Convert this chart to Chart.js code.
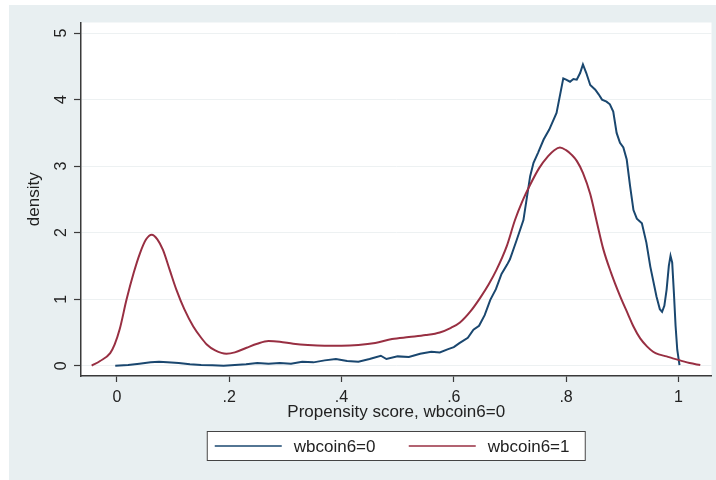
<!DOCTYPE html>
<html>
<head>
<meta charset="utf-8">
<title>Propensity score density</title>
<script src="https://cdn.jsdelivr.net/npm/chart.js@4.4.1/dist/chart.umd.min.js"></script>
<style>
  html, body { margin: 0; padding: 0; background: #fff; }
  #wrap { position: relative; width: 716px; height: 480px; }
</style>
</head>
<body>
<div id="wrap"><canvas id="chart"></canvas></div>
<script>
// ==========================================================================
// Data
// ==========================================================================
const seriesNames = ['wbcoin6=0', 'wbcoin6=1'];
const seriesColors = ['#1a476f', '#982f42'];

// wbcoin6=0
const controlX = [
    -0.003, 0.02, 0.04, 0.06, 0.075, 0.09, 0.11, 0.13, 0.15, 0.17, 0.19, 0.21, 0.23, 0.25,
    0.27, 0.29, 0.31, 0.33, 0.35, 0.37, 0.39, 0.41, 0.43, 0.45, 0.47, 0.48, 0.50, 0.52,
    0.54, 0.56, 0.575, 0.59, 0.60, 0.61, 0.625, 0.635, 0.645, 0.655, 0.665, 0.675, 0.685,
    0.695, 0.70, 0.712, 0.724, 0.736, 0.742, 0.75, 0.76, 0.77, 0.783, 0.795, 0.80, 0.807,
    0.813, 0.819, 0.825, 0.830, 0.836, 0.843, 0.852, 0.858, 0.864, 0.872, 0.878, 0.884,
    0.89, 0.896, 0.902, 0.908, 0.914, 0.920, 0.926, 0.935, 0.943, 0.950, 0.961, 0.967,
    0.971, 0.975, 0.979, 0.983, 0.986, 0.989, 0.992, 0.995, 0.998, 1.002
];
const controlY = [
    0.00, 0.01, 0.03, 0.05, 0.06, 0.05, 0.04, 0.02, 0.01, 0.005, 0.00, 0.01, 0.02, 0.04,
    0.03, 0.04, 0.03, 0.06, 0.05, 0.08, 0.10, 0.07, 0.06, 0.10, 0.15, 0.10, 0.14, 0.13,
    0.18, 0.21, 0.20, 0.25, 0.28, 0.34, 0.42, 0.54, 0.60, 0.76, 0.99, 1.15, 1.38,
    1.52, 1.60, 1.89, 2.19, 2.85, 3.05, 3.20, 3.40, 3.55, 3.80, 4.32, 4.30, 4.27,
    4.31, 4.30, 4.40, 4.53, 4.40, 4.22, 4.15, 4.08, 4.00, 3.97, 3.93, 3.82,
    3.50, 3.35, 3.28, 3.10, 2.70, 2.34, 2.21, 2.14, 1.85, 1.49, 1.04, 0.85,
    0.81, 0.90, 1.14, 1.50, 1.65, 1.55, 1.10, 0.60, 0.24, 0.01
];

// wbcoin6=1
const treatX = [
    -0.045, -0.03, -0.012, -0.004, 0.005, 0.017, 0.03, 0.041, 0.052, 0.062, 0.072, 0.082,
    0.094, 0.106, 0.12, 0.136, 0.15, 0.16, 0.175, 0.195, 0.21, 0.231, 0.25, 0.27, 0.29,
    0.314, 0.34, 0.37, 0.40, 0.43, 0.46, 0.49, 0.52, 0.55, 0.575, 0.595, 0.611, 0.63,
    0.647, 0.662, 0.676, 0.694, 0.709, 0.722, 0.736, 0.752, 0.768, 0.779, 0.789, 0.80,
    0.81, 0.819, 0.83, 0.843, 0.855, 0.866, 0.88, 0.896, 0.91, 0.92, 0.932, 0.944,
    0.955, 0.965, 0.979, 0.99, 1.003, 1.02, 1.039
];
const treatY = [
    0.00, 0.07, 0.19, 0.32, 0.55, 0.99, 1.40, 1.69, 1.90, 1.97, 1.90, 1.74,
    1.44, 1.14, 0.85, 0.59, 0.42, 0.32, 0.23, 0.18, 0.20, 0.27, 0.33, 0.37, 0.36,
    0.33, 0.31, 0.30, 0.30, 0.31, 0.34, 0.40, 0.43, 0.46, 0.50, 0.57, 0.65, 0.82,
    1.02, 1.22, 1.44, 1.79, 2.19, 2.47, 2.72, 2.97, 3.15, 3.24, 3.28, 3.24,
    3.17, 3.08, 2.90, 2.58, 2.15, 1.76, 1.40, 1.05, 0.78, 0.59, 0.41, 0.29,
    0.21, 0.17, 0.14, 0.11, 0.08, 0.04, 0.01
];

const xTickValues = [0, 0.2, 0.4, 0.6, 0.8, 1];
const xTickLabels = ['0', '.2', '.4', '.6', '.8', '1'];
const yTickValues = [0, 1, 2, 3, 4, 5];
const yTickLabels = ['0', '1', '2', '3', '4', '5'];

const xTitle = 'Propensity score, wbcoin6=0';
const yTitle = 'density';

// ==========================================================================
// Look
// ==========================================================================
const FONT = '"Liberation Sans", Arial, sans-serif';
const INK = '#222';
const AXIS = '#3a3a3a';
const REGION = '#e8eff1';

// --- Stata style graph region: bluish frame, white plot region ---
const stataBackground = {
    id: 'stataBackground',
    beforeDraw(chart) {
        const { ctx, width, height, chartArea: a } = chart;
        ctx.save();
        ctx.fillStyle = '#fff';
        ctx.fillRect(0, 0, width, height);
        ctx.fillStyle = REGION;
        ctx.fillRect(9, 5, width - 9, height - 5);
        ctx.fillStyle = '#fff';
        ctx.fillRect(a.left, a.top, a.right - a.left, a.bottom - a.top);
        ctx.restore();
    }
};

// --- Rotated y tick labels (Stata writes them sideways) ---
const sidewaysYTicks = {
    id: 'sidewaysYTicks',
    afterDraw(chart) {
        const { ctx } = chart;
        const y = chart.scales.y;
        ctx.save();
        ctx.fillStyle = INK;
        ctx.font = '16px ' + FONT;
        ctx.textAlign = 'center';
        ctx.textBaseline = 'alphabetic';
        yTickValues.forEach((v, i) => {
            ctx.save();
            ctx.translate(66, y.getPixelForValue(v));
            ctx.rotate(-Math.PI / 2);
            ctx.fillText(yTickLabels[i], 0, 0);
            ctx.restore();
        });
        ctx.restore();
    }
};

// --- Boxed legend under the axis title ---
const boxLegend = {
    id: 'boxLegend',
    afterDraw(chart) {
        const { ctx, chartArea: a } = chart;
        const cx = (a.left + a.right) / 2;
        const boxW = 379, boxH = 30, top = 431;
        const left = cx - boxW / 2;
        ctx.save();
        ctx.fillStyle = '#fff';
        ctx.fillRect(left, top, boxW, boxH);
        ctx.strokeStyle = '#444';
        ctx.lineWidth = 1;
        ctx.strokeRect(left + 0.5, top + 0.5, boxW - 1, boxH - 1);
        ctx.font = '17px ' + FONT;
        ctx.textBaseline = 'middle';
        ctx.textAlign = 'left';
        chart.data.datasets.forEach((ds, i) => {
            const x0 = left + 8 + i * 194;
            const ym = top + 15;
            ctx.strokeStyle = ds.borderColor;
            ctx.lineWidth = 1.5;
            ctx.beginPath();
            ctx.moveTo(x0, ym);
            ctx.lineTo(x0 + 67, ym);
            ctx.stroke();
            ctx.fillStyle = INK;
            ctx.fillText(ds.label, x0 + 79, ym + 1);
        });
        ctx.restore();
    }
};

// ==========================================================================
// Chart
// ==========================================================================
const toPoints = (xs, ys) => xs.map((x, i) => ({ x: x, y: ys[i] }));

new Chart(document.getElementById('chart'), {
    type: 'line',
    data: {
        datasets: [
            {
                label: seriesNames[0],
                data: toPoints(controlX, controlY),
                borderColor: seriesColors[0],
                borderWidth: 2,
                pointRadius: 0,
                tension: 0,
                order: 1
            },
            {
                label: seriesNames[1],
                data: toPoints(treatX, treatY),
                borderColor: seriesColors[1],
                borderWidth: 2,
                pointRadius: 0,
                cubicInterpolationMode: 'monotone',
                order: 0
            }
        ]
    },
    options: {
        responsive: true,
        maintainAspectRatio: false,
        animation: false,
        devicePixelRatio: 1,
        layout: { padding: { left: 0, top: 22.5, right: 4.5, bottom: 56 } },
        plugins: {
            legend: { display: false },
            tooltip: { enabled: false }
        },
        scales: {
            x: {
                type: 'linear',
                min: -0.064,
                max: 1.059,
                afterBuildTicks: s => { s.ticks = xTickValues.map(v => ({ value: v })); },
                afterFit: s => { s.height = 48; },
                ticks: {
                    color: INK,
                    font: { family: FONT, size: 16 },
                    padding: 6,
                    maxRotation: 0,
                    autoSkip: false,
                    callback: (v, i) => xTickLabels[i]
                },
                grid: { drawOnChartArea: false, tickColor: AXIS, tickLength: 6, tickWidth: 1.2 },
                border: { color: AXIS, width: 1.5 },
                title: {
                    display: true,
                    text: xTitle,
                    color: INK,
                    font: { family: FONT, size: 17 },
                    padding: { top: 0, bottom: 1 }
                }
            },
            y: {
                type: 'linear',
                min: -0.155,
                max: 5.16,
                afterBuildTicks: s => { s.ticks = yTickValues.map(v => ({ value: v })); },
                afterFit: s => { s.width = 81; },
                ticks: { display: false },
                grid: { color: '#edf1f2', lineWidth: 1, tickColor: AXIS, tickLength: 7, tickWidth: 1.2 },
                border: { color: AXIS, width: 1.5 },
                title: {
                    display: true,
                    text: yTitle,
                    color: INK,
                    font: { family: FONT, size: 17 },
                    padding: { top: 24, bottom: 0 }
                }
            }
        }
    },
    plugins: [stataBackground, sidewaysYTicks, boxLegend]
});
</script>
</body>
</html>
